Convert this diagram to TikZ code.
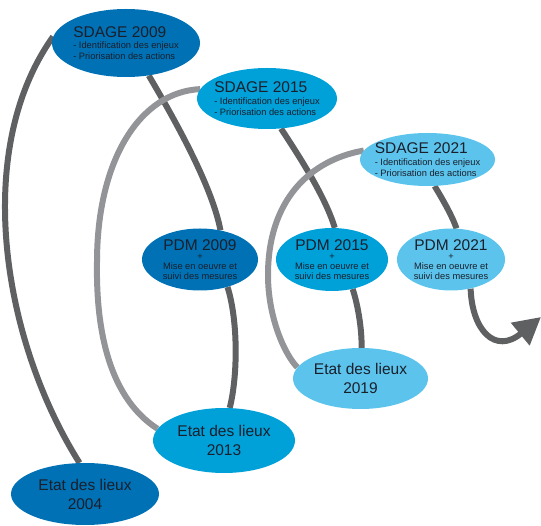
\documentclass[tikz,border=0pt]{standalone}
\usepackage{fontspec}
\setmainfont{Liberation Sans}
\usetikzlibrary{shapes.geometric,backgrounds,arrows.meta}
\definecolor{bDark}{HTML}{0071B4}
\definecolor{bMid}{HTML}{00A0D8}
\definecolor{bLight}{HTML}{5CC4EC}
\definecolor{gDark}{HTML}{5F6062}
\definecolor{gLight}{HTML}{939497}
\definecolor{txt}{HTML}{1A1F2C}
\newcommand\tfont{\fontsize{15.5pt}{15.5pt}\selectfont}
\newcommand\sfont{\fontsize{9.3pt}{9.3pt}\selectfont}
\newcommand\blk[1]{\hbox to 0pt{\hss\vbox{\lineskiplimit=-100pt\lineskip=0pt #1}\hss}}
\newcommand\cl[1]{\hbox to 0pt{\hss #1\hss}}
\newcommand\sdagetxt[1]{\blk{\hbox{\tfont SDAGE #1}\baselineskip=11.7pt
  \hbox{\sfont - Identification des enjeux}\baselineskip=10.7pt
  \hbox{\sfont - Priorisation des actions}}}
\newcommand\pdmtxt[1]{\blk{\cl{\tfont PDM #1}\baselineskip=9.2pt
  \cl{\sfont +}\baselineskip=9.5pt
  \cl{\sfont Mise en oeuvre et}\baselineskip=10pt
  \cl{\sfont suivi des mesures}}}
\newcommand\edltxt[1]{\blk{\cl{\tfont Etat des lieux}\baselineskip=19pt
  \cl{\tfont #1}}}
\begin{document}
\begin{tikzpicture}[x=1pt,y=-1pt,
  bubble/.style={ellipse,inner sep=0pt,text=txt},
  darkline/.style={draw=gDark,line width=6pt},
  lightline/.style={draw=gLight,line width=6pt}]
\useasboundingbox (0,0) rectangle (541,526);
% SDAGE
\node[bubble,fill=bDark,minimum width=148pt,minimum height=68pt] (s09) at (126,43) {\sdagetxt{2009}};
\node[bubble,fill=bMid,minimum width=140pt,minimum height=61pt] (s15) at (267,98.5) {\sdagetxt{2015}};
\node[bubble,fill=bLight,minimum width=135pt,minimum height=53pt] (s21) at (427.5,159.5) {\sdagetxt{2021}};
% PDM
\node[bubble,fill=bDark,minimum width=116pt,minimum height=62pt] (p09) at (200,259.5) {\pdmtxt{2009}};
\node[bubble,fill=bMid,minimum width=112pt,minimum height=63pt] (p15) at (332,259.5) {\pdmtxt{2015}};
\node[bubble,fill=bLight,minimum width=108pt,minimum height=62pt] (p21) at (451,259.5) {\pdmtxt{2021}};
% Etat des lieux
\node[bubble,fill=bDark,minimum width=148pt,minimum height=62pt] (e04) at (85,494) {\edltxt{2004}};
\node[bubble,fill=bMid,minimum width=142pt,minimum height=65pt] (e13) at (224,440.5) {\edltxt{2013}};
\node[bubble,fill=bLight,minimum width=135pt,minimum height=61pt] (e19) at (360.5,378.5) {\edltxt{2019}};
\coordinate (w13) at (97,262);
\coordinate (w19) at (268,275);
\coordinate (tip) at (541,317);
\begin{pgfonlayer}{background}
\draw[darkline] (e04.100) .. controls (2,340) and (-28,150) .. (s09.175);
\draw[darkline] (s09.-55) .. controls (172,115) and (212,185) .. (p09.55);
\draw[darkline] (p09.-45) .. controls (238,320) and (238,375) .. (e13.80);
\draw[lightline] (e13.170) .. controls (105,395) and (96,320) .. (w13)
  .. controls (97,160) and (140,92) .. (s15.172);
\draw[darkline] (s15.-65) .. controls (295,150) and (325,195) .. (p15.85);
\draw[darkline] (p15.-55) .. controls (358,305) and (362,330) .. (e19.88);
\draw[lightline] (e19.170) .. controls (285,355) and (268,318) .. (w19)
  .. controls (268,200) and (310,160) .. (s21.172);
\draw[darkline] (s21.-75) .. controls (440,195) and (452,215) .. (p21.80);
\draw[darkline,-{Triangle[length=27pt,width=28pt]}] (p21.-56) .. controls (472,330) and (495,355) .. (tip);
\end{pgfonlayer}
\end{tikzpicture}
\end{document}
